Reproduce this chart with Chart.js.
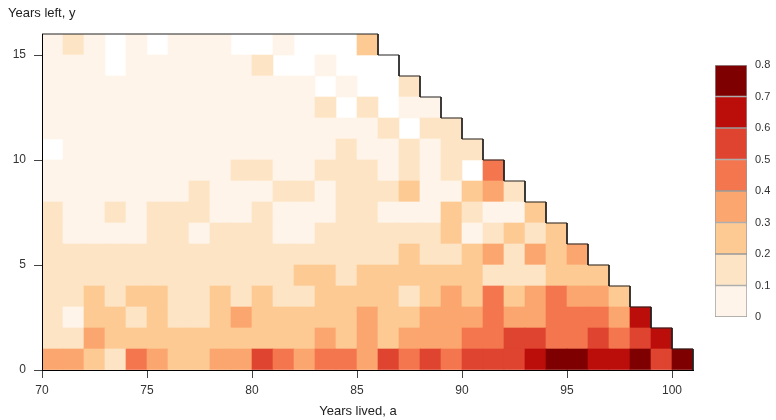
<!DOCTYPE html>
<html>
<head>
<meta charset="utf-8">
<script src="https://cdn.jsdelivr.net/npm/chart.js@4.4.0/dist/chart.umd.min.js"></script>
<style>
  body { margin: 0; background: #fff; }
  #wrap { position: relative; width: 776px; height: 420px; }
  #heat { position: absolute; left: 0; top: 0; }
  #colorBar { position: absolute; left: 700px; top: 40px; }
</style>
</head>
<body>
<div id="wrap">
  <canvas id="heat" width="776" height="420"></canvas>
  <canvas id="colorBar" width="76" height="300"></canvas>
</div>
<script>
/*
* heatmap of years lived (a) against years left (y); each row below holds the
* cell values for one y, starting at a = 70. null is an empty (white) cell.
*/
const yearsLived = [70, 71, 72, 73, 74, 75, 76, 77, 78, 79, 80, 81, 82, 83, 84, 85,
   86, 87, 88, 89, 90, 91, 92, 93, 94, 95, 96, 97, 98, 99, 100];
const yearsLeft = [0, 1, 2, 3, 4, 5, 6, 7, 8, 9, 10, 11, 12, 13, 14, 15];
const xTicks = [70, 75, 80, 85, 90, 95, 100];
const yTicks = [0, 5, 10, 15];
const scaleTicks = [0, 0.1, 0.2, 0.3, 0.4, 0.5, 0.6, 0.7, 0.8];

const row0 = [.35, .35, .25, .15, .45, .35, .25, .25, .35, .35, .55, .45, .35, .45, .45, .35,
   .55, .45, .55, .45, .55, .55, .55, .65, .75, .75, .65, .65, .75, .55, .75];
const row1 = [.15, .15, .35, .25, .25, .25, .25, .25, .25, .25, .25, .25, .25, .35, .25, .35,
   .25, .35, .35, .35, .45, .45, .55, .55, .45, .45, .55, .45, .55, .65];
const row2 = [.15, .05, .25, .25, .15, .25, .15, .15, .25, .35, .25, .25, .25, .25, .25, .35,
   .25, .25, .35, .35, .35, .45, .35, .35, .45, .45, .45, .35, .65];
const row3 = [.15, .15, .25, .15, .25, .25, .15, .15, .25, .15, .25, .15, .15, .25, .25, .25,
   .25, .15, .25, .35, .25, .45, .25, .35, .45, .35, .35, .25];
const row4 = [.15, .15, .15, .15, .15, .15, .15, .15, .15, .15, .15, .15, .25, .25, .15, .25,
   .25, .25, .25, .25, .25, .15, .15, .15, .25, .25, .25];
const row5 = [.15, .15, .15, .15, .15, .15, .15, .15, .15, .15, .15, .15, .15, .15, .15, .15,
   .15, .25, .15, .15, .25, .35, .15, .35, .25, .35];
const row6 = [.15, .05, .05, .05, .05, .15, .15, .05, .15, .15, .15, .05, .05, .15, .15, .15,
   .15, .15, .15, .25, .05, .15, .25, .15, .25];
const row7 = [.15, .05, .05, .15, .05, .15, .15, .15, .05, .05, .15, .05, .05, .05, .15, .15,
   .05, .05, .05, .25, .15, .05, .05, .25];
const row8 = [.05, .05, .05, .05, .05, .05, .05, .15, .05, .05, .05, .15, .15, .05, .15, .15,
   .15, .25, .05, .05, .25, .35, .15];
const row9 = [.05, .05, .05, .05, .05, .05, .05, .05, .05, .15, .15, .05, .05, .15, .15, .15,
   .05, .15, .05, .15, null, .45];
const row10 = [null, .05, .05, .05, .05, .05, .05, .05, .05, .05, .05, .05, .05, .05, .15, .05,
   .05, .15, .05, .15, .15];
const row11 = [.05, .05, .05, .05, .05, .05, .05, .05, .05, .05, .05, .05, .05, .05, .05, .05,
   .15, null, .15, .15];
const row12 = [.05, .05, .05, .05, .05, .05, .05, .05, .05, .05, .05, .05, .05, .15, null, .15,
   null, .05, .05];
const row13 = [.05, .05, .05, .05, .05, .05, .05, .05, .05, .05, .05, .05, .05, null, .05, null,
   null, .15];
const row14 = [.05, .05, .05, null, .05, .05, .05, .05, .05, .05, .15, null, null, .05, null, null,
   null];
const row15 = [.05, .15, .05, null, .05, null, .05, .05, .05, null, null, .05, null, null, null, .25];
const rows = [row0, row1, row2, row3, row4, row5, row6, row7, row8, row9, row10, row11,
   row12, row13, row14, row15];

const palette = ['#fef4e9', '#fde4c4', '#fdca94', '#fca66f', '#f4764f', '#de4430', '#bb0e0a', '#7f0000'];

Chart.defaults.font.family = '"Liberation Sans", Arial, sans-serif';
Chart.defaults.color = '#333';

/*
* picks the colour of the bin a value falls in.
*/
function binColor(v) {
   for (let i = 0; i < palette.length; i++) {
      if (v < scaleTicks[i + 1]) {
         return palette[i];
      }
   }
   return palette[palette.length - 1];
}

// one floating-bar dataset per row of years left
const cellSets = yearsLeft.map((y, k) => ({
   type: 'bar',
   data: rows[k]
      .map((v, i) => v === null ? null : { x: yearsLived[i] + 0.5, y: [y, y + 1], v: v })
      .filter(Boolean),
   backgroundColor: ctx => ctx.raw ? binColor(ctx.raw.v) : '#fff',
   borderWidth: 0,
   grouped: false,
   barPercentage: 1,
   categoryPercentage: 1,
   order: 1
}));

// staircase outline over the top of the cells, from how far each column reaches
const tops = yearsLived.map((a, i) => rows.filter(r => r.length > i).length);
const outline = [];
yearsLived.forEach((a, i) => {
   outline.push({ x: a, y: tops[i] }, { x: a + 1, y: tops[i] });
});
outline.push({ x: yearsLived[yearsLived.length - 1] + 1, y: 0 });

// axis titles sit outside the usual title slots, so they are written here
const axisTitles = {
   id: 'axisTitles',
   afterDraw(chart) {
      const c = chart.ctx;
      c.save();
      c.font = '13px "Liberation Sans", Arial, sans-serif';
      c.fillStyle = '#222';
      c.textBaseline = 'middle';
      c.textAlign = 'left';
      c.fillText('Years left, y', 8, 13);
      c.textAlign = 'center';
      c.fillText('Years lived, a', 358, 411);
      c.restore();
   }
};

const axisGrid = {
   display: true,
   drawOnChartArea: false,
   drawTicks: true,
   tickLength: 8,
   color: '#444',
   tickColor: '#444',
   offset: false,
   z: 1
};

const axisBorder = { display: true, color: '#000', width: 1, z: 2 };

new Chart(document.querySelector('#heat'), {
   type: 'bar',
   data: {
      datasets: [{
         type: 'line',
         data: outline,
         borderColor: '#222',
         borderWidth: 1,
         pointRadius: 0,
         fill: false,
         tension: 0,
         clip: false,
         order: 0
      }].concat(cellSets)
   },
   options: {
      responsive: false,
      animation: false,
      layout: { padding: { top: 34, right: 83, left: 0, bottom: 0 } },
      plugins: {
         legend: { display: false },
         tooltip: { enabled: false }
      },
      scales: {
         x: {
            type: 'linear',
            min: 70,
            max: 101,
            offset: false,
            afterBuildTicks: s => { s.ticks = xTicks.map(v => ({ value: v })); },
            ticks: { color: '#333', font: { size: 12 }, padding: 5, maxRotation: 0 },
            grid: axisGrid,
            border: axisBorder,
            afterFit: s => { s.height = 50; }
         },
         y: {
            type: 'linear',
            min: 0,
            max: 16,
            afterBuildTicks: s => { s.ticks = yTicks.map(v => ({ value: v })); },
            ticks: { color: '#333', font: { size: 12 }, padding: 8 },
            grid: axisGrid,
            border: axisBorder,
            afterFit: s => { s.width = 42; }
         }
      }
   },
   plugins: [axisTitles]
});

// the colour key, one floating segment per bin
new Chart(document.querySelector('#colorBar'), {
   type: 'bar',
   data: {
      labels: [''],
      datasets: palette.map((c, i) => ({
         data: [[scaleTicks[i], scaleTicks[i + 1]]],
         backgroundColor: c,
         borderColor: '#9a9a9a',
         borderWidth: 1,
         borderSkipped: false,
         grouped: false,
         barPercentage: 1,
         categoryPercentage: 1
      }))
   },
   options: {
      responsive: false,
      animation: false,
      layout: { padding: { left: 15, top: 25, bottom: 23, right: 0 } },
      plugins: {
         legend: { display: false },
         tooltip: { enabled: false }
      },
      scales: {
         x: { display: false },
         y: {
            position: 'right',
            min: 0,
            max: 0.8,
            afterBuildTicks: s => { s.ticks = scaleTicks.map(v => ({ value: v })); },
            ticks: {
               color: '#333',
               font: { size: 11 },
               padding: 8,
               callback: v => String(Math.round(v * 10) / 10)
            },
            grid: { display: false, drawTicks: false },
            border: { display: false },
            afterFit: s => { s.width = 29; }
         }
      }
   }
});
</script>
</body>
</html>
